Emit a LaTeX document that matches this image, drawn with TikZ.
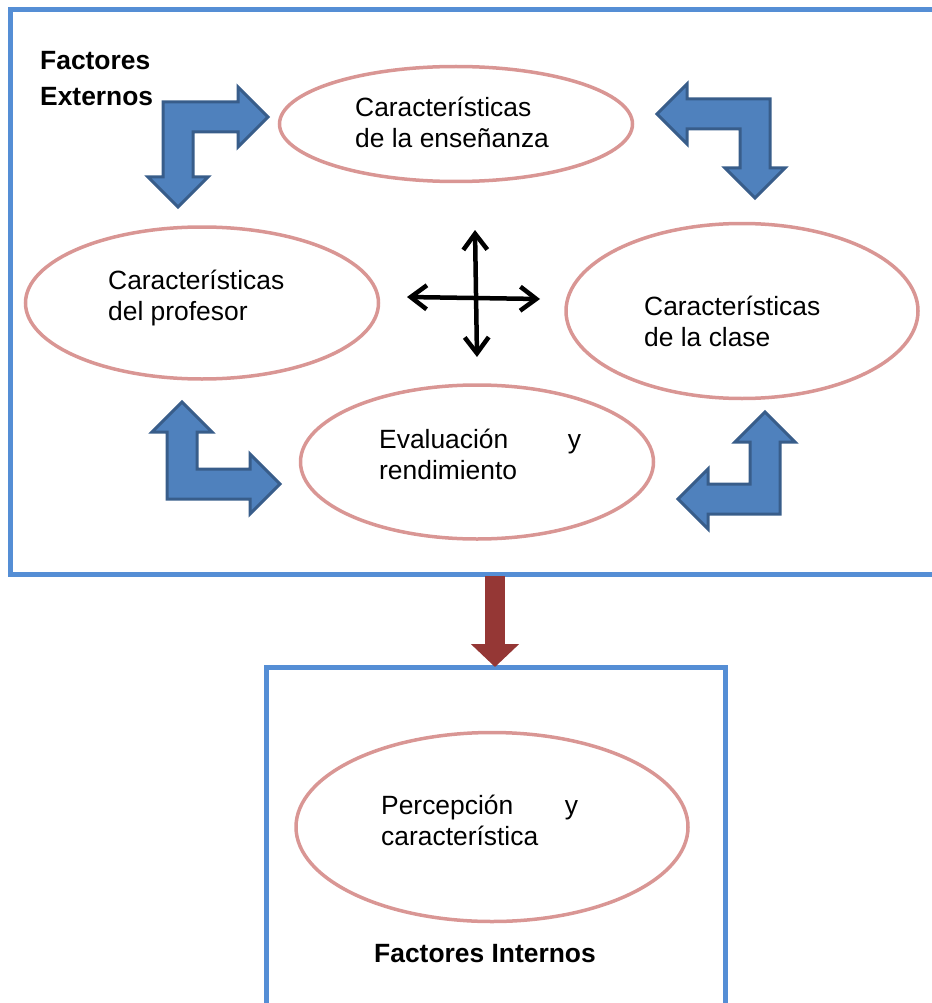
\documentclass[tikz,border=0pt]{standalone}
\usepackage{fontspec}
\setmainfont{Liberation Sans}
\usetikzlibrary{shapes.geometric,arrows.meta}
\definecolor{ovalpink}{HTML}{D99694}
\definecolor{frameblue}{HTML}{558ED5}
\definecolor{bentfill}{HTML}{4F81BD}
\definecolor{bentdraw}{HTML}{385D8A}
\definecolor{downred}{HTML}{953735}

\begin{document}
\begin{tikzpicture}[x=1pt, y=-1pt,
    oval/.style={ellipse, draw=ovalpink, line width=3.5pt, inner sep=0pt},
    txt/.style={anchor=base west, align=left, inner sep=0pt, font=\fontsize{26.4}{31}\selectfont},
    boldtxt/.style={inner sep=0pt, font=\fontsize{26.4}{36}\selectfont\bfseries},
    bent/.style={fill=bentfill, draw=bentdraw, line width=3pt, line join=miter},
    frame/.style={draw=frameblue, line width=5pt},
    cross/.style={line width=4.5pt, {Straight Barb[length=16pt,width=24pt]}-{Straight Barb[length=16pt,width=24pt]}}]

    \useasboundingbox (0,0) rectangle (931,1003);

    % frames
    \draw[frame] (10,10) rectangle (945,574);
    \draw[frame] (266,667) rectangle (725,1020);

    % ovals
    \node[oval, minimum width=353pt, minimum height=115pt] (ens) at (456,124) {};
    \node[oval, minimum width=353pt, minimum height=152pt] (prof) at (202,303) {};
    \node[oval, minimum width=352pt, minimum height=175pt] (clase) at (742,311) {};
    \node[oval, minimum width=353pt, minimum height=154pt] (eval) at (477,462) {};
    \node[oval, minimum width=392pt, minimum height=189pt] (perc) at (492,827) {};

    % texts (base = last line)
    \node[txt] (ensT) at (355,148) {Características\\de la enseñanza};
    \node[txt] (profT) at (108,320) {Características\\del profesor};
    \node[txt] (claseT) at (644,346) {Características\\de la clase};
    \node[txt] (evalT) at (379,479) {\makebox[202pt][s]{Evaluación y}\\rendimiento};
    \node[txt] (percT) at (381,845) {\makebox[197pt][s]{Percepción y}\\característica};

    \node[boldtxt, anchor=base west, align=left] (ext) at (40,106) {Factores\\Externos};
    \node[boldtxt, anchor=base] (int) at (485,962) {Factores Internos};

    % bent arrows
    \draw[bent] (163,102) -- (238,102) -- (238,87) -- (268,117) -- (238,147) -- (238,132)
      -- (193,132) -- (193,177) -- (208,177) -- (178,207) -- (148,177) -- (163,177) -- cycle;
    \draw[bent] (770,99) -- (687,99) -- (687,84) -- (657,114) -- (687,144) -- (687,129)
      -- (740,129) -- (740,168) -- (725,168) -- (755,198) -- (785,168) -- (770,168) -- cycle;
    \draw[bent] (167,499) -- (167,432) -- (152,432) -- (182,402) -- (212,432) -- (197,432)
      -- (197,469) -- (250,469) -- (250,454) -- (280,484) -- (250,514) -- (250,499) -- cycle;
    \draw[bent] (780,514) -- (780,442) -- (795,442) -- (765,412) -- (735,442) -- (750,442)
      -- (750,484) -- (708,484) -- (708,469) -- (678,499) -- (708,529) -- (708,514) -- cycle;

    % cross
    \coordinate (crossN) at (475,230);
    \coordinate (crossS) at (477,357);
    \coordinate (crossW) at (407,297);
    \coordinate (crossE) at (540,299);
    \draw[cross] (crossW) -- (crossE);
    \draw[cross] (crossN) -- (crossS);

    % down arrow
    \coordinate (extBot) at (495,576);
    \coordinate (intTop) at (495,667);
    \draw[downred, line width=20pt, -{Triangle[length=23pt,width=47pt]}] (extBot) -- (intTop);
\end{tikzpicture}
\end{document}
